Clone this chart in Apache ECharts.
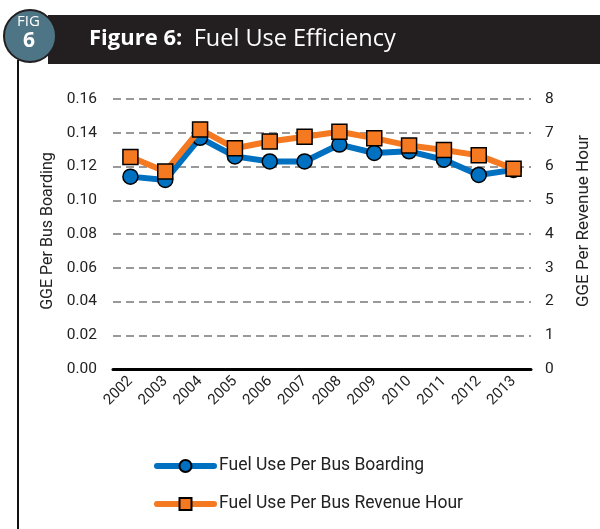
<!DOCTYPE html>
<html>
<head>
<meta charset="utf-8">
<script src="https://cdn.jsdelivr.net/npm/echarts@6/dist/echarts.min.js"></script>
<style>
  html, body { margin: 0; padding: 0; background: #fff; }
  #chart { width: 600px; height: 529px; }
</style>
</head>
<body>
<div id="chart"></div>
<script>
// 数据
const years = ['2002', '2003', '2004', '2005', '2006', '2007', '2008', '2009', '2010', '2011', '2012', '2013'];
const perBoarding = [0.114, 0.112, 0.137, 0.126, 0.123, 0.123, 0.133, 0.128, 0.129, 0.124, 0.115, 0.118];
const perRevenueHour = [6.28, 5.85, 7.10, 6.54, 6.74, 6.88, 7.03, 6.84, 6.62, 6.49, 6.33, 5.93];

const FONT = 'Roboto';

const chart = echarts.init(document.getElementById('chart'));

chart.setOption({
  animation: false,
  textStyle: { fontFamily: FONT },
  graphic: [
    // 左侧竖线
    { type: 'line', shape: { x1: 18, y1: 60, x2: 18, y2: 529 }, style: { stroke: '#111', lineWidth: 2 }, z: 1 },
    // 标题黑条
    { type: 'rect', shape: { x: 48, y: 15, width: 552, height: 49 }, style: { fill: '#231f20' }, z: 1 },
    // FIG 圆
    { type: 'circle', shape: { cx: 30, cy: 36, r: 26 }, style: { fill: '#4e7585', stroke: '#231f20', lineWidth: 2 }, z: 2 },
    { type: 'text', left: 17, top: 14, style: { text: 'FIG', fill: '#fff', font: '15px "Open Sans"' }, z: 3 },
    { type: 'text', left: 23, top: 31, style: { text: '6', fill: '#fff', font: 'bold 21px "Open Sans"' }, z: 3 },
    {
      type: 'text', left: 89, top: 27, z: 3,
      style: {
        text: '{b|Figure 6:}  {r|Fuel Use Efficiency}',
        fill: '#fff',
        font: '22px "Open Sans"',
        rich: {
          b: { fontFamily: 'Open Sans', fontWeight: 'bold', fontSize: 22, fill: '#fff' },
          r: { fontFamily: 'Open Sans', fontSize: 23.5, fill: '#fff' }
        }
      }
    }
  ],
  grid: { left: 113, right: 69, top: 99, bottom: 160 },
  legend: {
    orient: 'vertical',
    left: 149,
    top: 452,
    itemWidth: 57,
    itemHeight: 15,
    itemGap: 20,
    lineStyle: { width: 6, cap: 'round' },
    textStyle: { fontFamily: FONT, fontSize: 17.5, color: '#222' },
    data: ['Fuel Use Per Bus Boarding', 'Fuel Use Per Bus Revenue Hour']
  },
  xAxis: {
    type: 'category',
    data: years,
    boundaryGap: true,
    axisLine: { lineStyle: { color: '#000', width: 3 } },
    axisTick: { show: false },
    axisLabel: { rotate: 45, color: '#222', fontSize: 15, margin: 10, interval: 0 },
    z: 5
  },
  yAxis: [
    {
      type: 'value',
      min: 0, max: 0.16, interval: 0.02,
      name: 'GGE Per Bus Boarding',
      nameLocation: 'middle',
      nameGap: 57,
      nameTextStyle: { fontSize: 16, color: '#222', padding: [0, 0, 0, 6] },
      axisLine: { show: false },
      axisTick: { show: false },
      axisLabel: { color: '#222', fontSize: 15.5, margin: 16, formatter: v => v.toFixed(2) },
      splitLine: { showMinLine: false, lineStyle: { color: '#999', type: [8, 5], width: 2 } }
    },
    {
      type: 'value',
      min: 0, max: 8, interval: 1,
      name: 'GGE Per Revenue Hour',
      nameLocation: 'middle',
      nameGap: 44,
      nameRotate: 90,
      nameTextStyle: { fontSize: 17, color: '#222', padding: [0, 0, 0, 26] },
      axisLine: { show: false },
      axisTick: { show: false },
      axisLabel: { color: '#222', fontSize: 15.5, margin: 14 },
      splitLine: { show: false }
    }
  ],
  series: [
    {
      name: 'Fuel Use Per Bus Boarding',
      type: 'line',
      yAxisIndex: 0,
      data: perBoarding,
      symbol: 'circle',
      symbolSize: 15,
      lineStyle: { color: '#0070c0', width: 6 },
      itemStyle: { color: '#0070c0', borderColor: '#000', borderWidth: 1.5 },
      z: 2
    },
    {
      name: 'Fuel Use Per Bus Revenue Hour',
      type: 'line',
      yAxisIndex: 1,
      data: perRevenueHour,
      symbol: 'rect',
      symbolSize: 15,
      lineStyle: { color: '#f47920', width: 6 },
      itemStyle: { color: '#f47920', borderColor: '#000', borderWidth: 1.5 },
      z: 3
    }
  ]
});
</script>
</body>
</html>
